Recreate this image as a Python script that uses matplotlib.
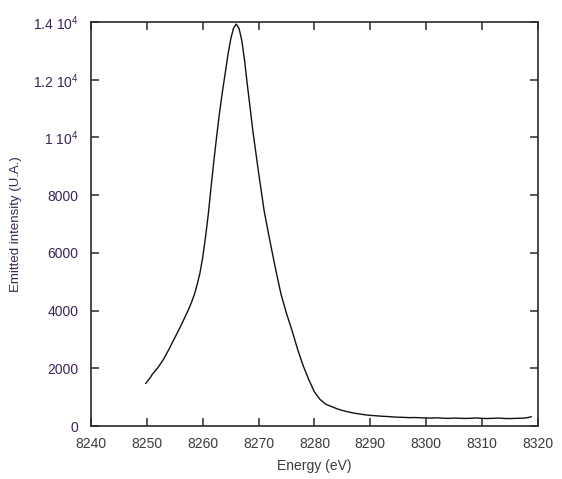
import matplotlib
matplotlib.use("Agg")
import matplotlib.pyplot as plt
from matplotlib.ticker import FixedLocator, FuncFormatter

# ── Data ────────────────────────────────────────────────────────────────────

energy = [8249.8, 8250.5, 8251, 8252, 8253, 8254, 8255, 8256, 8257, 8257.5,
          8258, 8258.5, 8259, 8259.5, 8260, 8260.5, 8261, 8261.5, 8262, 8262.5,
          8263, 8263.5, 8264, 8264.5, 8265, 8265.5, 8266, 8266.5, 8267, 8267.5,
          8268, 8268.5, 8269, 8270, 8271, 8272, 8273, 8274, 8275, 8276,
          8277, 8278, 8279, 8280, 8281, 8282, 8283, 8284, 8285, 8286,
          8287, 8288, 8289, 8290, 8291, 8292, 8293, 8294, 8295, 8296,
          8297, 8298, 8299, 8300, 8301, 8302, 8303, 8304, 8305, 8306,
          8307, 8308, 8309, 8310, 8311, 8312, 8313, 8314, 8315, 8316,
          8317, 8318, 8318.8]
intensity = [1480, 1650, 1800, 2030, 2320, 2680, 3060, 3440, 3850, 4060,
             4290, 4560, 4900, 5300, 5850, 6550, 7350, 8300, 9200, 10050,
             10850, 11550, 12200, 12850, 13400, 13780, 13930, 13780, 13350, 12650,
             11800, 11000, 10190, 8780, 7450, 6440, 5480, 4580, 3900, 3300,
             2650, 2080, 1600, 1180, 920, 760, 680, 600, 540, 490,
             450, 420, 390, 370, 355, 340, 330, 315, 305, 300,
             290, 295, 285, 280, 275, 285, 270, 265, 275, 268,
             262, 270, 280, 265, 260, 268, 275, 262, 258, 265,
             270, 285, 320]

x_ticks = [8240, 8250, 8260, 8270, 8280, 8290, 8300, 8310, 8320]
y_ticks = [0, 2000, 4000, 6000, 8000, 10000, 12000, 14000]

# ── Style ───────────────────────────────────────────────────────────────────

plt.rcParams["font.family"] = ["Liberation Sans", "DejaVu Sans"]
plt.rcParams["mathtext.fontset"] = "custom"
plt.rcParams["mathtext.rm"] = "Liberation Sans"
plt.rcParams["mathtext.it"] = "Liberation Sans"

X_COLOR = "#3a3a3a"
Y_COLOR = "#3b2456"
AXIS_COLOR = "#2a2a2a"


def y_fmt(v, pos):
    if v >= 10000:
        m = v / 10000
        s = "1" if m == 1 else f"{m:.1f}"
        return s + r" 10$^{4}$"
    return f"{int(v)}"


fig = plt.figure(figsize=(5.62, 4.79), dpi=100)
ax = fig.add_axes([0.162, 0.1106, 0.795, 0.8434])

ax.plot(energy, intensity, color="#111111", linewidth=1.0)

ax.set_xlim(8240, 8320)
ax.set_ylim(0, 14000)
ax.xaxis.set_major_locator(FixedLocator(x_ticks))
ax.yaxis.set_major_locator(FixedLocator(y_ticks))
ax.yaxis.set_major_formatter(FuncFormatter(y_fmt))

ax.tick_params(direction="in", length=6, width=1.1, color=AXIS_COLOR,
               top=True, right=True, labelsize=10)
ax.tick_params(axis="x", pad=8, labelcolor=X_COLOR)
ax.tick_params(axis="y", pad=9, labelcolor=Y_COLOR)
for spine in ax.spines.values():
    spine.set_linewidth(1.2)
    spine.set_edgecolor(AXIS_COLOR)

ax.set_xlabel("Energy (eV)", color=X_COLOR, fontsize=10, labelpad=6)
ax.set_ylabel("Emitted intensity (U.A.)", color=Y_COLOR, fontsize=9.5,
              labelpad=8)

fig.savefig("out.png", dpi=100, facecolor="white")
